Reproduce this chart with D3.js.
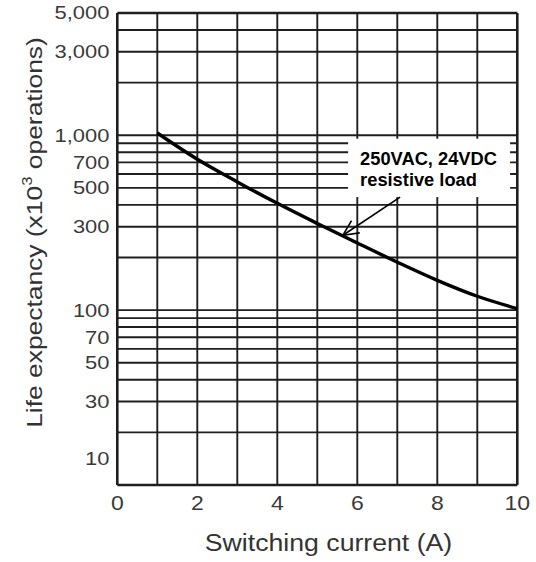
<!DOCTYPE html>
<html><head><meta charset="utf-8">
<script src="https://cdn.jsdelivr.net/npm/d3@7"></script>
<style>body{margin:0;background:#fff}svg{display:block}</style>
</head><body><svg id="c" width="536" height="562"></svg>
<script>
// ---- data ----
const currentA = [1, 2, 3, 4, 5, 6, 7, 8, 9, 10];
const lifeK = [1030, 729, 541, 408, 313, 242, 188, 148, 120, 102];
const xTicks = [0, 2, 4, 6, 8, 10];
const xGrid = [0, 1, 2, 3, 4, 5, 6, 7, 8, 9, 10];
const yGrid = [10, 20, 30, 40, 50, 60, 70, 80, 90, 100, 200, 300, 400, 500, 600, 700, 800, 900, 1000, 2000, 3000, 4000, 5000];
const yTickValues = [5000, 3000, 1000, 700, 500, 300, 100, 70, 50, 30, 10];
const yTickLabels = ["5,000", "3,000", "1,000", "700", "500", "300", "100", "70", "50", "30", "10"];
const annotLines = ["250VAC, 24VDC", "resistive load"];
const annotBox = {x0: 5.77, x1: 9.82, v0: 955, v1: 443};
const arrowFrom = {x: 7.07, v: 443};
const arrowTo = {x: 5.64, v: 268};
const xTitle = "Switching current (A)";

// ---- chart ----
const svg = d3.select("#c");
const x = d3.scaleLinear().domain([0, 10]).range([117.3, 517.3]);
const y = d3.scaleLog().domain([10, 5000]).range([485, 13]);
const font = "'Liberation Sans', Arial, Helvetica, sans-serif";
const gridCol = "#1e1e1e";

const g = svg.append("g");
g.selectAll("line.h").data(yGrid).join("line")
  .attr("x1", x(0)).attr("x2", x(10))
  .attr("y1", d => y(d)).attr("y2", d => y(d))
  .attr("stroke", gridCol).attr("stroke-width", d => (d === 10 || d === 5000) ? 2.6 : 1.9);
g.selectAll("line.v").data(xGrid).join("line")
  .attr("y1", y(10)).attr("y2", y(5000))
  .attr("x1", d => x(d)).attr("x2", d => x(d))
  .attr("stroke", gridCol).attr("stroke-width", d => (d === 0 || d === 10) ? 2.6 : 1.9);

// curve
const line = d3.line().x(d => x(d[0])).y(d => y(d[1])).curve(d3.curveMonotoneX);
svg.append("path").datum(currentA.map((c, i) => [c, lifeK[i]]))
  .attr("d", line).attr("fill", "none").attr("stroke", "#000")
  .attr("stroke-width", 3.4).attr("stroke-linecap", "butt");

// annotation box
svg.append("rect")
  .attr("x", x(annotBox.x0)).attr("width", x(annotBox.x1) - x(annotBox.x0))
  .attr("y", y(annotBox.v0)).attr("height", y(annotBox.v1) - y(annotBox.v0))
  .attr("fill", "#fff");
svg.append("g").selectAll("text").data(annotLines).join("text")
  .attr("x", x(annotBox.x0) + 12)
  .attr("y", (d, i) => y(annotBox.v0) + 26 + i * 21.5)
  .attr("font-family", font).attr("font-weight", "bold").attr("font-size", 18.3)
  .attr("fill", "#000").text(d => d);

// arrow
const ax1 = x(arrowFrom.x), ay1 = y(arrowFrom.v), ax2 = x(arrowTo.x), ay2 = y(arrowTo.v);
svg.append("line").attr("x1", ax1).attr("y1", ay1).attr("x2", ax2).attr("y2", ay2)
  .attr("stroke", "#000").attr("stroke-width", 1.6);
const ang = Math.atan2(ay1 - ay2, ax1 - ax2);
const hl = 17, spread = 0.45;
svg.append("path")
  .attr("d", `M${ax2 + hl * Math.cos(ang - spread)},${ay2 + hl * Math.sin(ang - spread)}L${ax2},${ay2}L${ax2 + hl * Math.cos(ang + spread)},${ay2 + hl * Math.sin(ang + spread)}`)
  .attr("fill", "none").attr("stroke", "#000").attr("stroke-width", 1.6);

// y tick labels
svg.append("g").selectAll("text").data(yTickValues).join("text")
  .attr("transform", (d, i) => {
    const yy = d === 10 ? (y(10) + y(20)) / 2 : y(d);
    return `translate(109.5,${yy}) scale(1.22,1)`;
  })
  .attr("dy", "0.36em").attr("text-anchor", "end")
  .attr("font-family", font).attr("font-size", 18).attr("fill", "#3a3a3a")
  .text((d, i) => yTickLabels[i]);

// x tick labels
svg.append("g").selectAll("text").data(xTicks).join("text")
  .attr("transform", d => `translate(${x(d)},510) scale(1.15,1)`)
  .attr("text-anchor", "middle")
  .attr("font-family", font).attr("font-size", 20).attr("fill", "#3a3a3a")
  .text(d => d);

// x title
svg.append("text")
  .attr("transform", `translate(328.5,551) scale(1.16,1)`)
  .attr("text-anchor", "middle")
  .attr("font-family", font).attr("font-size", 23).attr("fill", "#333")
  .text(xTitle);

// y title
const yt = svg.append("text")
  .attr("transform", `translate(42,232.5) rotate(-90) scale(1.2,1)`)
  .attr("text-anchor", "middle")
  .attr("font-family", font).attr("font-size", 22).attr("fill", "#333");
yt.append("tspan").text("Life expectancy (x10");
yt.append("tspan").attr("font-size", 14).attr("dy", "-0.75em").text("3");
yt.append("tspan").attr("dy", "0.48em").text(" operations)");
</script></body></html>
